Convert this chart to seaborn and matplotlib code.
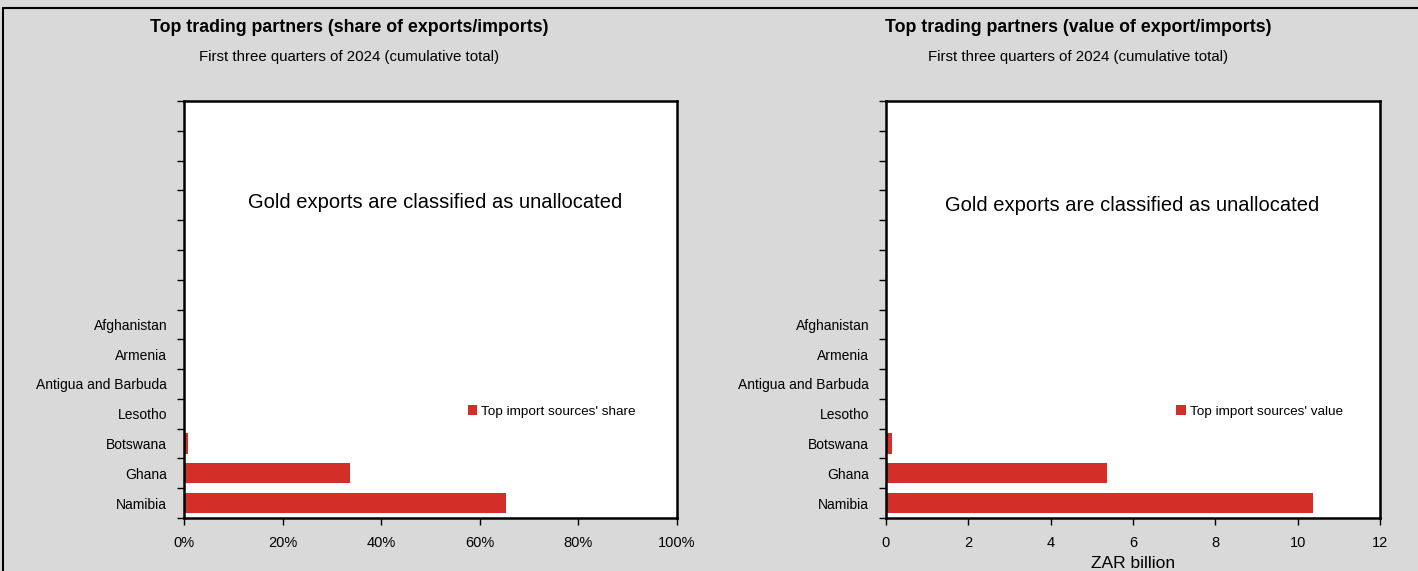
import matplotlib
matplotlib.use("Agg")
import matplotlib.pyplot as plt
from matplotlib.patches import Patch, Rectangle
import seaborn as sns
import pandas as pd
import numpy as np

countries = ["Afghanistan", "Armenia", "Antigua and Barbuda", "Lesotho", "Botswana", "Ghana", "Namibia"]
share_pct = [0.05, 0.05, 0.05, 0.1, 0.8, 33.7, 65.3]
value_zar_bn = [0.01, 0.01, 0.01, 0.02, 0.15, 5.38, 10.37]

left_title = "Top trading partners (share of exports/imports)"
right_title = "Top trading partners (value of export/imports)"
subtitle = "First three quarters of 2024 (cumulative total)"
note = "Gold exports are classified as unallocated"
share_ticks = [0, 20, 40, 60, 80, 100]
share_tick_labels = ["0%", "20%", "40%", "60%", "80%", "100%"]
value_ticks = [0, 2, 4, 6, 8, 10, 12]
legend_share = "Top import sources' share"
legend_value = "Top import sources' value"
xlabel_value = "ZAR billion"

BG = "#d9d9d9"
RED = "#d42e28"

sns.set_theme(style="white")
plt.rcParams["font.family"] = ["Liberation Sans", "DejaVu Sans"]
plt.rcParams["text.color"] = "black"
plt.rcParams["axes.labelcolor"] = "black"
plt.rcParams["xtick.color"] = "black"
plt.rcParams["ytick.color"] = "black"

df = pd.DataFrame({"country": countries, "share": share_pct, "value": value_zar_bn})

W, H = 1418, 571
fig = plt.figure(figsize=(W / 100, H / 100), dpi=100, facecolor=BG)

def px(x0, y0, x1, y1):
    return [x0 / W, 1 - y1 / H, (x1 - x0) / W, (y1 - y0) / H]

axL = fig.add_axes(px(184, 101, 677, 518))
axR = fig.add_axes(px(886, 101, 1380, 518))

for ax, col, ticks, labels, leg, xlab, lx in [
    (axL, "share", share_ticks, share_tick_labels, legend_share, None, 0.565),
    (axR, "value", value_ticks, [str(t) for t in value_ticks], legend_value, xlabel_value, 0.577),
]:
    sns.barplot(data=df, y="country", x=col, order=countries, orient="h",
                color=RED, saturation=1, width=0.68, ax=ax, edgecolor="none")
    ax.set_facecolor("white")
    ax.set_ylim(6.5, -7.5)
    ax.set_xlim(ticks[0], ticks[-1])
    ax.set_xticks(ticks)
    ax.set_xticklabels(labels, fontsize=10.5)
    ax.set_yticks(range(len(countries)))
    ax.set_yticklabels(countries, fontsize=10)
    ax.set_yticks(np.arange(-7.5, 7.0, 1.0), minor=True)
    ax.tick_params(axis="y", which="major", length=0, pad=12)
    ax.tick_params(axis="y", which="minor", length=5, width=1, color="black", direction="out", left=True)
    ax.tick_params(axis="x", which="major", length=5, width=1, color="black", direction="out", bottom=True, pad=8)
    ax.set_ylabel("")
    ax.set_xlabel(xlab if xlab else "", fontsize=12.5, labelpad=4)
    for s in ax.spines.values():
        s.set_visible(True)
        s.set_color("black")
        s.set_linewidth(1.8)
    ax.legend(handles=[Patch(facecolor=RED, edgecolor="none", label=leg)],
              loc="center left", bbox_to_anchor=(lx, 0.255), frameon=False,
              fontsize=9.7, handlelength=0.7, handleheight=0.7, handletextpad=0.3,
              borderaxespad=0)

fig.text(349 / W, 1 - 27 / H, left_title, ha="center", va="center", fontsize=12.8, fontweight="bold")
fig.text(349 / W, 1 - 57 / H, subtitle, ha="center", va="center", fontsize=10.8)
fig.text(1078 / W, 1 - 27 / H, right_title, ha="center", va="center", fontsize=12.8, fontweight="bold")
fig.text(1078 / W, 1 - 57 / H, subtitle, ha="center", va="center", fontsize=10.8)

fig.text(435 / W, 1 - 202 / H, note, ha="center", va="center", fontsize=14.5)
fig.text(1132 / W, 1 - 205 / H, note, ha="center", va="center", fontsize=14.5)

fig.patches.append(Rectangle((3 / W, -0.05), 1.2, 1 - 8 / H + 0.05, transform=fig.transFigure,
                             fill=False, edgecolor="black", linewidth=1.5))

fig.savefig("out.png", dpi=100, facecolor=BG)
